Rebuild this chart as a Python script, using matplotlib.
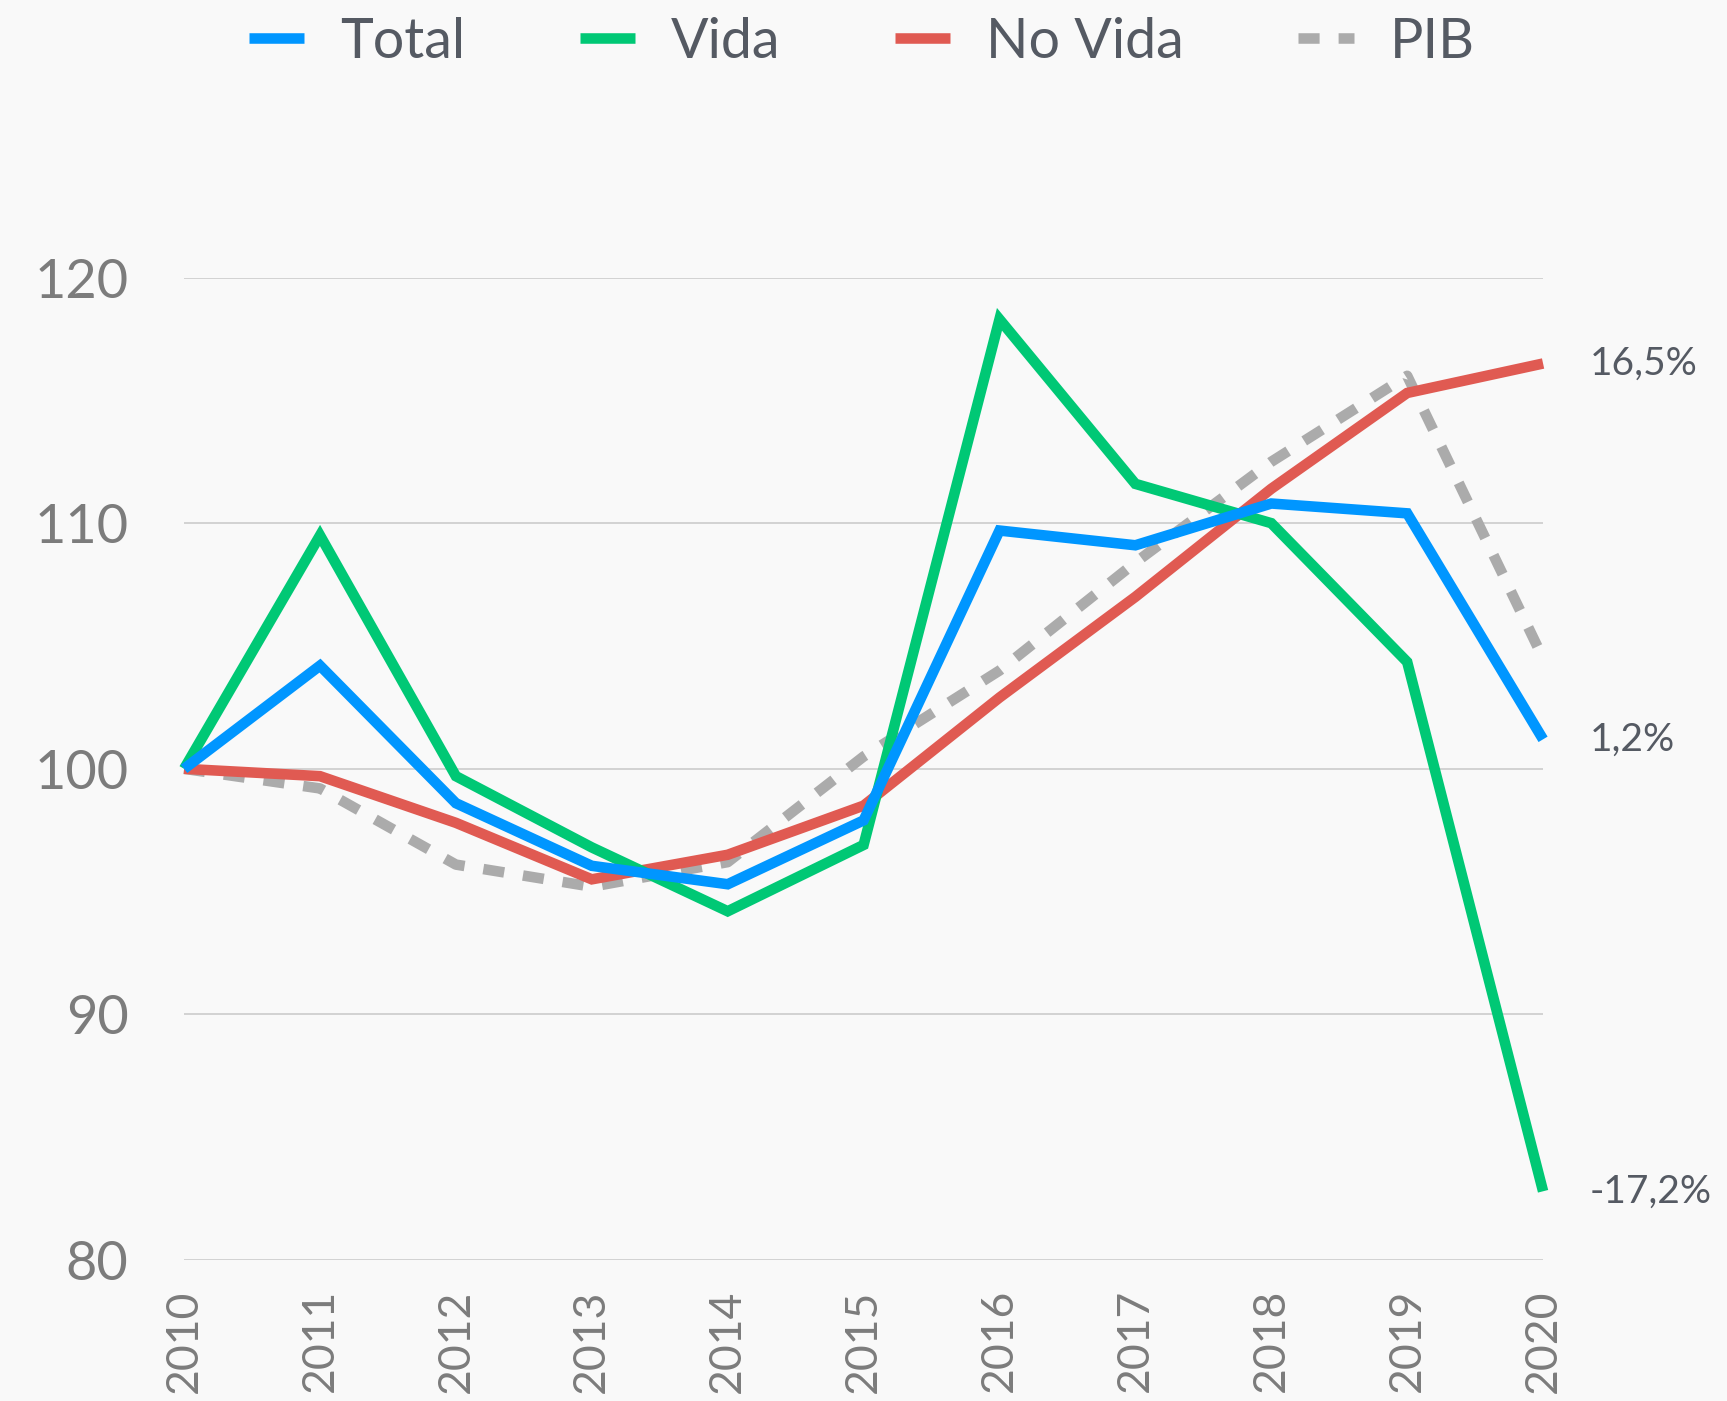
import matplotlib
matplotlib.use("Agg")
import matplotlib.pyplot as plt
from matplotlib.lines import Line2D

years = [2010, 2011, 2012, 2013, 2014, 2015, 2016, 2017, 2018, 2019, 2020]
total = [100.0, 104.2, 98.6, 96.05, 95.3, 97.9, 109.7, 109.1, 110.8, 110.4, 101.2]
vida = [100.0, 109.5, 99.7, 96.8, 94.2, 96.9, 118.3, 111.6, 110.0, 104.35, 82.8]
no_vida = [100.0, 99.7, 97.8, 95.5, 96.5, 98.5, 102.9, 107.0, 111.4, 115.3, 116.5]
pib = [100.0, 99.2, 96.1, 95.2, 96.2, 100.5, 104.0, 108.4, 112.5, 116.0, 104.5]
yticks = [80, 90, 100, 110, 120]
end_labels = {"No Vida": "16,5%", "Total": "1,2%", "Vida": "-17,2%"}

plt.rcParams['font.family'] = ['Lato', 'DejaVu Sans']

BG = "#F9F9F9"
C_TOTAL = "#0096FF"
C_VIDA = "#00C875"
C_NOVIDA = "#E05A52"
C_PIB = "#ABABAB"
TICK_C = "#7C7C7C"
TEXT_C = "#555A63"

fig = plt.figure(figsize=(17.27, 14.01), dpi=100, facecolor=BG)
ax = fig.add_axes([0.1066, 0.1006, 0.7869, 0.7013], facecolor=BG)

lw = 7.6
ax.plot(years, pib, color=C_PIB, lw=lw, dashes=(2.0, 1.8), dash_capstyle='butt', clip_on=False, zorder=2)
ax.plot(years, no_vida, color=C_NOVIDA, lw=lw, clip_on=False, zorder=3, solid_capstyle='butt', solid_joinstyle='miter')
ax.plot(years, vida, color=C_VIDA, lw=lw, clip_on=False, zorder=4, solid_capstyle='butt', solid_joinstyle='miter')
ax.plot(years, total, color=C_TOTAL, lw=lw, clip_on=False, zorder=5, solid_capstyle='butt', solid_joinstyle='miter')

ax.set_xlim(2010, 2020)
ax.set_ylim(80, 120)
ax.set_yticks(yticks)
ax.set_xticks(years)
ax.set_xticklabels([str(y) for y in years], rotation=90)
ax.grid(axis='y', color="#CCCCCC", lw=1.2)
ax.set_axisbelow(True)
for s in ax.spines.values():
    s.set_visible(False)
ax.tick_params(axis='y', length=0, pad=40, labelsize=39, labelcolor=TICK_C)
ax.tick_params(axis='x', length=0, pad=21, labelsize=32, labelcolor=TICK_C)

series_last = {"No Vida": no_vida[-1], "Total": total[-1], "Vida": vida[-1]}
for name, txt in end_labels.items():
    ax.annotate(txt, xy=(years[-1], series_last[name]), xytext=(47, 0),
                textcoords='offset pixels', ha='left', va='center',
                fontsize=28, color=TEXT_C, annotation_clip=False)

handles = [
    Line2D([], [], color=C_TOTAL, lw=lw, solid_capstyle='butt'),
    Line2D([], [], color=C_VIDA, lw=lw, solid_capstyle='butt'),
    Line2D([], [], color=C_NOVIDA, lw=lw, solid_capstyle='butt'),
    Line2D([], [], color=C_PIB, lw=lw, dashes=(2.0, 1.8), dash_capstyle='butt'),
]
leg = fig.legend(handles, ["Total", "Vida", "No Vida", "PIB"], loc='center',
                 bbox_to_anchor=(0.499, 0.970), ncol=4, frameon=False,
                 fontsize=40, handlelength=1.0, handletextpad=0.65, columnspacing=2.05)
for t in leg.get_texts():
    t.set_color(TEXT_C)

fig.savefig("out.png", dpi=100, facecolor=BG)
